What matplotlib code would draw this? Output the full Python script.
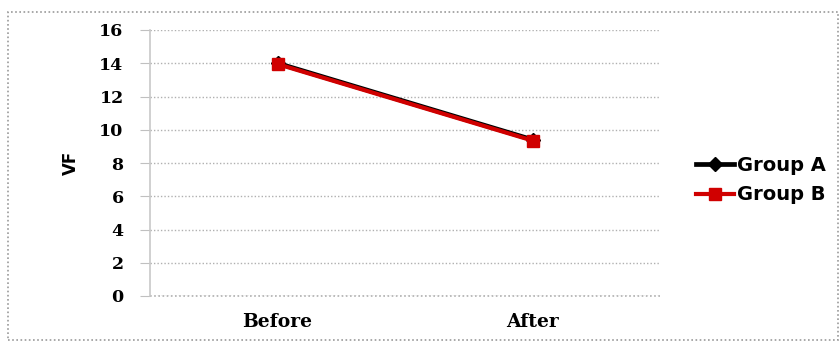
import matplotlib
matplotlib.use("Agg")
import matplotlib.pyplot as plt
from matplotlib.patches import Rectangle

# Data
categories = ["Before", "After"]
group_a = [14.0, 9.4]
group_b = [13.95, 9.35]
y_ticks = [0, 2, 4, 6, 8, 10, 12, 14, 16]
y_label = "VF"

fig = plt.figure(figsize=(8.4, 3.44), dpi=100)
fig.patch.set_facecolor("white")

# Outer chart frame
fig.patches.append(Rectangle((8 / 840, 4 / 344), 830 / 840, 328 / 344,
                             transform=fig.transFigure, fill=False,
                             edgecolor="#9a9a9a", linestyle=(0, (1, 1.5)),
                             linewidth=1.2))

ax = fig.add_axes([150 / 840, 1 - 296 / 344, 510 / 840, 266 / 344])

x = range(len(categories))
ax.plot(x, group_a, color="black", linewidth=3.4, marker="D", markersize=7,
        label="Group A", zorder=3)
ax.plot(x, group_b, color="#d00000", linewidth=3.0, marker="s", markersize=8,
        label="Group B", zorder=4)

ax.set_xlim(-0.5, 1.5)
ax.set_ylim(0, 16)
ax.set_yticks(y_ticks)
ax.set_xticks(list(x))
ax.set_xticklabels(categories)

for lab in ax.get_yticklabels():
    lab.set_fontweight("bold")
    lab.set_fontsize(12.5)
    lab.set_family("DejaVu Serif")
for lab in ax.get_xticklabels():
    lab.set_fontweight("bold")
    lab.set_fontsize(13.5)
    lab.set_family("DejaVu Serif")

ax.tick_params(axis="y", length=7, color="#c0c0c0", pad=12)
ax.tick_params(axis="x", length=0, pad=12)

ax.grid(axis="y", color="#b0b0b0", linestyle=(0, (1, 1.5)), linewidth=1.0)
ax.axhline(0, color="#b0b0b0", linestyle=(0, (1, 1.5)), linewidth=1.2,
           clip_on=False, zorder=1)
ax.set_axisbelow(True)

for side in ("top", "right", "bottom"):
    ax.spines[side].set_visible(False)
ax.spines["left"].set_color("#c8c8c8")
ax.spines["left"].set_linewidth(1.2)

ax.set_ylabel(y_label, fontsize=12, fontweight="bold", labelpad=14)

fig.legend(loc="center left", bbox_to_anchor=(678 / 840, 1 - 180 / 344),
           frameon=False, handlelength=2.0, handletextpad=0.15,
           labelspacing=0.55, prop={"weight": "bold", "size": 14})

fig.savefig("out.png", dpi=100)
